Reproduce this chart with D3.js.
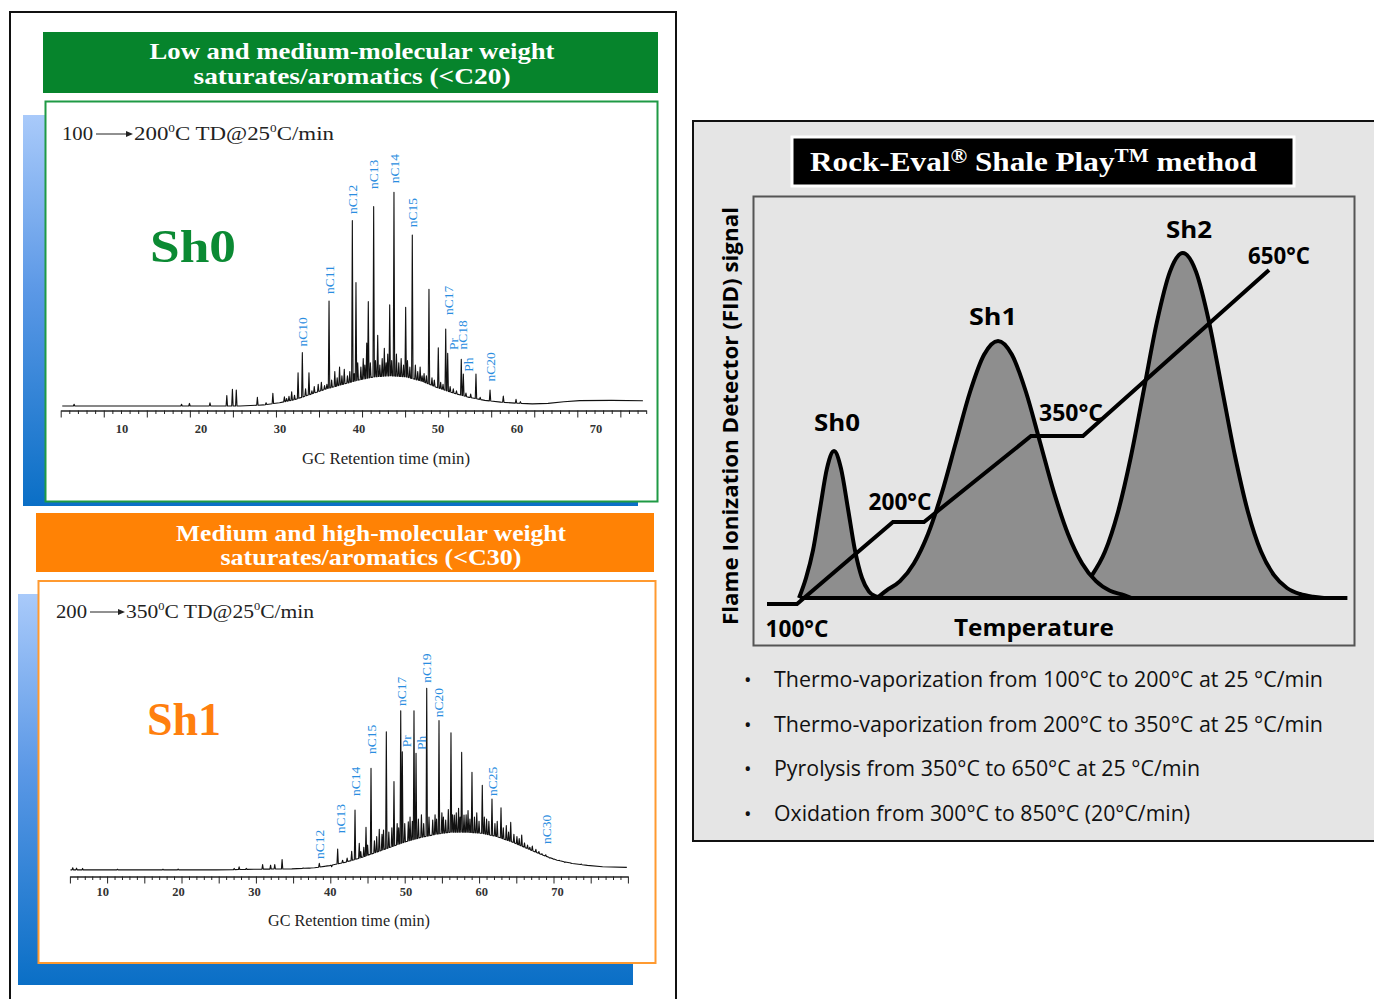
<!DOCTYPE html>
<html><head><meta charset="utf-8">
<script src="https://cdn.jsdelivr.net/npm/d3@7"></script>
<style>body{margin:0;background:#fff}svg{display:block}</style>
</head><body>
<svg id="c" width="1374" height="999"></svg>
<script>
// ================= DATA =================
const headerTop = ["Low and medium-molecular weight", "saturates/aromatics (<C20)"];
const headerBottom = ["Medium and high-molecular weight", "saturates/aromatics (<C30)"];
const timeTicks = [10, 20, 30, 40, 50, 60, 70];
const axisTitle = "GC Retention time (min)";

// Sh0 chromatogram (retention time min, intensity %)
const humpSh0 = [[2.5,0],[25,0],[28,0.5],[30,1.5],[32,3],[34,5.5],[36,8],[38,10],[40,12],[42,13.5],[44,14],[46,13.5],[48,11.5],[50,8.5],[52,6],[54,4],[56,2.6],[58,1.8],[60,1.3],[62,1],[64,1.2],[66,2],[68,2.5],[72,2.6],[76,2.4]];
const peaksSh0 = [[32.35,15.4],[32.89,24.7],[33.73,15.4],[36.27,48.6],[39.22,85.8],[39.68,57.1],[41.04,29.2],[41.24,48.3],[41.92,92.3],[42.43,32.7],[43.27,26.7],[43.95,46.8],[44.49,98.9],[45.97,45.7],[46.81,79.2],[48.92,54.0],[50.1,27.0],[51.04,35.6],[51.29,24.4],[53.01,21.6],[53.27,14.8],[54.87,14.8],[56.65,7.4]];
const noiseSh0 = [[4.0,0.8],[17.6,0.8],[18.6,1.2],[21.2,1.5],[23.33,4.8],[24.04,7.7],[24.53,7.4],[27.2,4.0],[28.3,1.5],[29.16,5.9],[30.62,4.3],[30.9,3.5],[31.2,4.5],[31.54,6.6],[31.9,5],[33.3,8],[34.1,7],[34.4,9],[34.9,10],[35.3,11],[35.7,9.5],[36.0,10],[36.6,12],[37.0,16],[37.3,13],[37.6,18],[37.9,14],[38.2,17],[38.6,14],[38.9,16],[39.45,15],[39.9,20],[40.3,18],[40.6,22],[40.8,19],[41.5,20],[42.15,21],[42.7,19],[43.0,22],[43.5,20],[43.7,24],[44.2,21],[44.8,24],[45.1,20],[45.4,22],[45.7,19],[46.2,21],[46.5,18],[47.2,19],[47.5,16],[47.8,18],[48.05,14],[48.3,15],[48.6,14],[49.3,13],[49.6,12],[50.4,11],[50.7,10],[51.6,9],[52.0,8],[52.4,7],[53.6,6],[54.2,5.5],[55.4,4],[58.33,4.6],[59.94,3.1],[60.5,2]];
const labelsSh0 = [["nC10",32.89,27.5],["nC11",36.27,51.9],["nC12",39.22,88.9],["nC13",41.92,100.5],["nC14",44.49,103.1],["nC15",46.81,82.7],["nC17",51.37,42.1],["Pr",52.0,25.9],["nC18",53.19,26.2],["Ph",53.9,15.9],["nC20",56.65,11.3]];

// Sh1 chromatogram
const humpSh1 = [[5.8,0.5],[25,0.5],[30,0.8],[35,1],[38,1.5],[40,2.5],[42,4],[44,6],[46,8.5],[48,11],[50,13.5],[52,15.5],[54,17],[56,18],[58,18],[60,17.5],[62,16],[64,13.5],[66,10.5],[68,7.5],[70,5],[72,3.5],[74,2.6],[76,2],[79.2,1.7]];
const peaksSh1 = [[31.15,3.0],[32.2,2.7],[32.75,3.0],[33.72,5.3],[38.63,3.6],[40.26,2.0],[41.05,10.2],[42.9,9.1],[43.34,28.2],[43.9,12.8],[44.79,20.2],[45.45,47.5],[46.54,19.3],[47.47,64.5],[48.48,41.4],[49.37,74.2],[49.58,55.2],[50.37,22.8],[51.12,74.2],[51.39,54.5],[52.8,84.6],[53.59,23.6],[54.42,69.6],[55.3,23.6],[55.65,28.5],[56.0,64.0],[56.44,25.9],[57.41,54.9],[57.72,25.9],[58.77,45.7],[60.13,39.7],[61.41,33.3],[62.6,29.3],[63.88,22.5],[65.33,16.6],[66.73,11.5],[68.5,7.5],[70.29,4.9]];
const noiseSh1 = [[6.1,1.5],[6.6,1.3],[7.4,1.2],[12,0.8],[18,0.8],[20,0.9],[27.4,1.2],[28.05,1.9],[29,1.2],[36.5,1.4],[37.4,1.3],[39.4,2.2],[41.7,5],[42.3,6],[44.1,9],[44.5,11],[45.0,12],[45.9,14],[46.2,16],[46.9,17],[47.1,19],[47.8,18],[48.2,20],[48.9,22],[49.1,20],[49.9,22],[50.6,25],[50.9,23],[51.7,24],[52.1,26],[52.4,22],[53.1,25],[53.9,26],[54.1,24],[54.8,27],[55.0,25],[56.2,26],[56.7,27],[57.0,29],[57.2,25],[58.0,26],[58.25,28],[58.5,24],[59.1,25],[59.4,27],[59.7,23],[60.4,25],[60.7,24],[61.0,23],[61.8,22],[62.1,23],[62.9,20],[63.3,21],[63.6,18],[64.3,17],[64.7,16],[65.0,15],[65.7,13],[66.1,12],[66.4,11],[67.2,10],[67.6,9],[68.0,8],[69.0,6],[69.5,5.5],[71.0,4],[71.7,3.8],[73.2,3.2]];
const labelsSh1 = [["nC12",38.63,5.6],["nC13",41.36,17.5],["nC14",43.34,34.7],["nC15",45.45,54.2],["nC17",49.5,76.4],["Pr",50.16,57.3],["Ph",52.05,56.0],["nC19",52.8,87.2],["nC20",54.33,71.2],["nC25",61.5,34.7],["nC30",68.54,12.5]];

// Rock-Eval schematic (arbitrary time units 0-100, signal 0-100)
const curveSh0 = [[7.65,0],[8.82,5.0],[9.98,11.9],[11.15,22.3],[12.31,32.4],[13.48,36.75],[14.64,32.4],[15.81,22.3],[16.97,11.9],[18.14,5.0],[19.30,1.6],[20.47,0.4],[21.13,0]];
const curveSh1 = [[20.6,0],[22.13,1.8],[24.46,4.2],[26.79,8.7],[29.12,16.0],[31.45,26.4],[33.78,39.0],[36.11,51.5],[38.44,60.8],[40.77,64.25],[43.09,60.8],[45.42,51.5],[47.75,39.0],[50.08,26.4],[52.41,16.0],[54.74,8.7],[57.07,4.2],[59.40,1.8],[61.73,0.7],[63.0,0]];
const curveSh2 = [[56.41,5.7],[58.57,11.6],[60.73,21.5],[62.90,35.5],[65.06,52.3],[67.22,69.1],[69.38,81.6],[71.51,86.25],[73.71,81.6],[75.87,69.1],[78.04,52.3],[80.20,35.5],[82.36,21.5],[84.53,11.6],[86.69,5.7],[88.85,2.5],[91.01,1.0],[93.18,0.3],[95.0,0]];
const tempProgram = [[2.33,-1.5],[7.32,-1.5],[23.29,19.0],[28.45,19.0],[46.26,40.5],[54.91,40.5],[85.86,82.0]];
const baselineRE = [[7.8,0],[98.9,0]];
const reLabels = [["Sh0",13.98,41.75,46],["Sh1",39.93,68.25,48],["Sh2",72.55,90,46],["650°C",87.52,83.5,62],["350°C",52.91,44.25,64],["200°C",24.46,22,63],["100°C",7.32,-9.75,63],["Temperature",46.76,-9.5,160]];
const bullets = ["Thermo-vaporization from 100°C to 200°C at 25 °C/min","Thermo-vaporization from 200°C to 350°C at 25 °C/min","Pyrolysis from 350°C to 650°C at 25 °C/min","Oxidation from 300°C to 850°C (20°C/min)"];
const bulletWidths = [549, 549, 426, 416];

// ================= DRAW =================
const svg = d3.select("#c");
const SERIF = "'Liberation Serif','DejaVu Serif',serif";
const SANS = "'Open Sans','Liberation Sans',sans-serif";
const defs = svg.append("defs");
const gr = defs.append("linearGradient").attr("id","blueg").attr("x1",0).attr("y1",0).attr("x2",0).attr("y2",1);
gr.append("stop").attr("offset","0%").attr("stop-color","#a9cafa");
gr.append("stop").attr("offset","45%").attr("stop-color","#5b98e6");
gr.append("stop").attr("offset","100%").attr("stop-color","#0a6fc6");

// outer left frame
svg.append("rect").attr("x",10).attr("y",12).attr("width",666).attr("height",1000)
  .attr("fill","none").attr("stroke","#111").attr("stroke-width",2);

function header(y, h, x, w, color, lines, widths, baselines, cx){
  svg.append("rect").attr("x",x).attr("y",y).attr("width",w).attr("height",h).attr("fill",color);
  lines.forEach((t,i)=>{
    svg.append("text").attr("x",cx).attr("y",baselines[i]).attr("text-anchor","middle")
      .attr("font-family",SERIF).attr("font-weight","bold").attr("font-size",23).attr("fill","#fff")
      .attr("textLength",widths[i]).attr("lengthAdjust","spacingAndGlyphs").text(t);
  });
}
header(32, 61, 43, 615, "#06842c", headerTop, [405,317], [59,84], 352);
header(513, 59, 36, 618, "#ff8205", headerBottom, [390,301], [541,565], 371);

function panel(sx, sy, sw, sh, fx, fy, fw, fh, stroke){
  svg.append("rect").attr("x",sx).attr("y",sy).attr("width",sw).attr("height",sh).attr("fill","url(#blueg)");
  svg.append("rect").attr("x",fx).attr("y",fy).attr("width",fw).attr("height",fh).attr("fill","#fff")
    .attr("stroke",stroke).attr("stroke-width",2);
}
panel(23,115,615,391, 45.5,101.5,612,400, "#1f9a45");
panel(18,594,615,391, 38.5,581,617,382, "#ff9a30");

function chrom(o){
  const g = svg.append("g");
  const x = d3.scaleLinear().domain([10,70]).range(o.xr);
  const y = d3.scaleLinear().domain([0,100]).range(o.yr);
  const hs = d3.scaleLinear().domain(o.hump.map(d=>d[0])).range(o.hump.map(d=>d[1]));
  const w = 0.09;
  const spikes = o.peaks.concat(o.noise).sort((a,b)=>a[0]-b[0]);
  const pts = o.hump.filter(h=>!spikes.some(s=>Math.abs(s[0]-h[0])<=w)).map(d=>[d[0],d[1]]);
  spikes.forEach(s=>{ pts.push([s[0]-w,hs(s[0]-w)],[s[0],s[1]],[s[0]+w,hs(s[0]+w)]); });
  pts.sort((a,b)=>a[0]-b[0]);
  g.append("path").attr("d", d3.line().x(d=>x(d[0])).y(d=>y(d[1]))(pts))
    .attr("fill","none").attr("stroke","#111").attr("stroke-width",1.1).attr("stroke-linejoin","round");

  // tick ruler
  const tk = d3.scaleLinear().domain([0,o.nt]).range([o.t0, o.t0 + o.nt*o.tstep]);
  const ax = g.append("g").attr("transform",`translate(0,${o.axisY})`)
    .call(d3.axisBottom(tk).tickValues(d3.range(0,o.nt+1)).tickSize(3).tickSizeOuter(0).tickFormat(""));
  ax.selectAll(".tick line").attr("stroke","#222").attr("y2", d=> d%5===0 ? 7 : 3.5);
  ax.select(".domain").attr("stroke","#222").attr("stroke-width",1.4);

  // labels of retention time
  const lab = g.append("g").attr("transform",`translate(0,${o.labY})`)
    .call(d3.axisBottom(x).tickValues(timeTicks).tickSize(0).tickFormat(d3.format("d")));
  lab.select(".domain").remove();
  lab.selectAll("text").attr("y",0).attr("dy",0).attr("font-family",SERIF).attr("font-weight","bold")
    .attr("font-size",12.5).attr("fill","#333");

  g.append("text").attr("x",o.titleX).attr("y",o.titleY).attr("text-anchor","middle")
    .attr("font-family",SERIF).attr("font-size",16).attr("fill","#222")
    .attr("textLength",o.titleW).attr("lengthAdjust","spacingAndGlyphs").text(axisTitle);

  // peak labels
  g.selectAll("text.pk").data(o.labels).join("text").attr("class","pk")
    .attr("transform",d=>`translate(${x(d[1])},${y(d[2])}) rotate(-90)`)
    .attr("dy","0.35em").attr("font-family",SERIF).attr("font-size",13.5).attr("fill","#2a8de0")
    .text(d=>d[0]);

  // run header (e.g. 100 -> 200 C TD@25 C/min)
  g.append("text").attr("x",o.hx).attr("y",o.hy).attr("font-family",SERIF).attr("font-size",19).attr("fill","#222")
    .attr("textLength",31).attr("lengthAdjust","spacingAndGlyphs").text(o.from);
  g.append("line").attr("x1",o.ax1).attr("x2",o.ax2-5).attr("y1",o.hy-6).attr("y2",o.hy-6).attr("stroke","#222").attr("stroke-width",1);
  g.append("path").attr("d",`M${o.ax2},${o.hy-6} L${o.ax2-7},${o.hy-9} L${o.ax2-7},${o.hy-3} Z`).attr("fill","#222");
  const t2 = g.append("text").attr("x",o.ax2+1).attr("y",o.hy).attr("font-family",SERIF).attr("font-size",19).attr("fill","#222")
    .attr("textLength",o.t2w).attr("lengthAdjust","spacingAndGlyphs");
  t2.append("tspan").text(o.to);
  t2.append("tspan").attr("font-size",11).attr("dy",-8).text("0");
  t2.append("tspan").attr("dy",8).text("C TD@25");
  t2.append("tspan").attr("font-size",11).attr("dy",-8).text("0");
  t2.append("tspan").attr("dy",8).text("C/min");

  // big label
  g.append("text").attr("x",o.bigX).attr("y",o.bigY).attr("font-family",SERIF).attr("font-weight","bold")
    .attr("font-size",46).attr("fill",o.bigColor).attr("textLength",o.bigW).attr("lengthAdjust","spacingAndGlyphs").text(o.big);
}

chrom({hump:humpSh0, peaks:peaksSh0, noise:noiseSh0, labels:labelsSh0,
  xr:[121.5,595.5], yr:[406,190], nt:68, t0:60.7, tstep:8.61, axisY:410.5, labY:433,
  titleX:386, titleY:464, titleW:168, hx:62, hy:140, ax1:96, ax2:133, from:"100", to:"200", t2w:200,
  big:"Sh0", bigX:150, bigY:262, bigW:86, bigColor:"#0b8a33"});
chrom({hump:humpSh1, peaks:peaksSh1, noise:noiseSh1, labels:labelsSh1,
  xr:[102.3,557.1], yr:[871,655], nt:75, t0:69.9, tstep:7.44, axisY:876.5, labY:896,
  titleX:349, titleY:926, titleW:162, hx:56, hy:618, ax1:90, ax2:125, from:"200", to:"350", t2w:188,
  big:"Sh1", bigX:147, bigY:735, bigW:74, bigColor:"#ff7f0e"});

// ================= RIGHT PANEL =================
svg.append("rect").attr("x",693).attr("y",121).attr("width",700).attr("height",720)
  .attr("fill","#e5e5e5").attr("stroke","#111").attr("stroke-width",2);
svg.append("rect").attr("x",753.5).attr("y",196.5).attr("width",601).attr("height",449)
  .attr("fill","#e5e5e5").attr("stroke","#555").attr("stroke-width",2);
svg.append("rect").attr("x",792).attr("y",137).attr("width",502).attr("height",49)
  .attr("fill","#000").attr("stroke","#fff").attr("stroke-width",3);
const tt = svg.append("text").attr("x",810).attr("y",171).attr("font-family",SERIF).attr("font-weight","bold")
  .attr("font-size",28).attr("fill","#fff").attr("textLength",447).attr("lengthAdjust","spacingAndGlyphs");
tt.append("tspan").text("Rock-Eval");
tt.append("tspan").attr("font-size",20).attr("dy",-8).text("®");
tt.append("tspan").attr("dy",8).text(" Shale Play");
tt.append("tspan").attr("font-size",19).attr("dy",-9).text("TM");
tt.append("tspan").attr("dy",9).text(" method");

const xs = d3.scaleLinear().domain([0,100]).range([753,1354]);
const ys = d3.scaleLinear().domain([0,100]).range([598,198]);
const area = d3.area().x(d=>xs(d[0])).y0(ys(0)).y1(d=>ys(d[1])).curve(d3.curveMonotoneX);
const line = d3.line().x(d=>xs(d[0])).y(d=>ys(d[1])).curve(d3.curveMonotoneX);
const rg = svg.append("g");
[curveSh0, curveSh1, curveSh2].forEach(c=>rg.append("path").attr("d",area(c)).attr("fill","#8e8e8e"));
rg.append("path").attr("d",d3.line().x(d=>xs(d[0])).y(d=>ys(d[1]))(baselineRE)).attr("stroke","#000").attr("stroke-width",4).attr("fill","none");
[curveSh0, curveSh1, curveSh2].forEach(c=>rg.append("path").attr("d",line(c)).attr("fill","none").attr("stroke","#000").attr("stroke-width",4));
rg.append("path").attr("d",d3.line().x(d=>xs(d[0])).y(d=>ys(d[1]))(tempProgram)).attr("fill","none")
  .attr("stroke","#000").attr("stroke-width",4).attr("stroke-linejoin","miter");
rg.selectAll("text.rl").data(reLabels).join("text").attr("class","rl")
  .attr("x",d=>xs(d[1])).attr("y",d=>ys(d[2])).attr("text-anchor","middle")
  .attr("font-family",SANS).attr("font-weight","bold").attr("font-size",24).attr("fill","#000")
  .attr("textLength",d=>d[3]).attr("lengthAdjust","spacingAndGlyphs").text(d=>d[0]);
svg.append("text").attr("transform","translate(738,416) rotate(-90)").attr("text-anchor","middle")
  .attr("font-family",SANS).attr("font-weight","bold").attr("font-size",22).attr("fill","#000")
  .attr("textLength",418).attr("lengthAdjust","spacingAndGlyphs").text("Flame Ionization Detector (FID) signal");

const bg = svg.append("g");
bullets.forEach((b,i)=>{
  const yb = 687 + i*44.5;
  bg.append("text").attr("x",744).attr("y",yb).attr("font-family",SANS).attr("font-size",20).attr("fill","#111").text("•");
  bg.append("text").attr("x",774).attr("y",yb).attr("font-family",SANS).attr("font-size",21).attr("fill","#111")
    .attr("textLength",bulletWidths[i]).attr("lengthAdjust","spacingAndGlyphs").text(b);
});
</script>
</body></html>
